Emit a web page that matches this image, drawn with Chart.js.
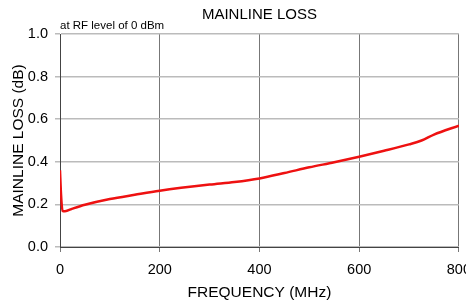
<!DOCTYPE html>
<html>
<head>
<meta charset="utf-8">
<script src="https://cdn.jsdelivr.net/npm/chart.js@4"></script>
<style>
  html, body { margin: 0; padding: 0; background: #fff; overflow: hidden; }
  #wrap { width: 480px; height: 300px; }
</style>
</head>
<body>
<div id="wrap"><canvas id="lossChart" width="480" height="300"></canvas></div>
<script>
const chartTitle = 'MAINLINE LOSS';
const chartNote = 'at RF level of 0 dBm';
const freqMHz = [0, 2, 5, 10, 25, 50, 100, 150, 200, 300, 350, 400, 450, 500, 550, 600, 650, 700, 725, 750, 800];
const lossDb = [0.36, 0.25, 0.17, 0.168, 0.18, 0.198, 0.225, 0.245, 0.264, 0.293, 0.305, 0.322, 0.347, 0.374, 0.398, 0.424, 0.452, 0.482, 0.50, 0.528, 0.57];
const xTicks = [0, 200, 400, 600, 800];
const yTicks = [0, 0.2, 0.4, 0.6, 0.8, 1.0];

const points = freqMHz.map((f, i) => ({x: f, y: lossDb[i]}));
const fontFam = '"Liberation Sans", Arial, sans-serif';

// title + small note drawn over the plot area
const titlePlugin = {
    id: 'titles',
    afterDraw(chart) {
        const ctx = chart.ctx;
        const area = chart.chartArea;
        ctx.save();
        ctx.fillStyle = '#000';
        ctx.textBaseline = 'middle';
        ctx.font = '15px ' + fontFam;
        ctx.textAlign = 'center';
        ctx.fillText(chartTitle, (area.left + area.right) / 2, 15);
        ctx.font = '11.5px ' + fontFam;
        ctx.textAlign = 'left';
        ctx.fillText(chartNote, area.left, 26);
        ctx.restore();
    }
};

const ctx = document.getElementById('lossChart').getContext('2d');

const myChart = new Chart(ctx, {
    type: 'line',
    data: {
        datasets: [{
            data: points,
            borderColor: '#ee1111',
            backgroundColor: 'transparent',
            borderWidth: 2.5,
            pointRadius: 0,
            cubicInterpolationMode: 'monotone'
        }]
    },
    plugins: [titlePlugin],
    options: {
        responsive: false,
        animation: false,
        layout: {
            padding: {left: 0, right: 21, top: 34, bottom: 0}
        },
        plugins: {
            legend: {display: false},
            tooltip: {enabled: false}
        },
        scales: {
            x: {
                type: 'linear',
                min: 0,
                max: 800,
                afterBuildTicks: (scale) => { scale.ticks = xTicks.map(v => ({value: v})); },
                afterFit: (scale) => { scale.height = 53; },
                ticks: {
                    color: '#000',
                    padding: 9,
                    font: {family: fontFam, size: 14.5},
                    maxRotation: 0
                },
                grid: {color: '#777', tickLength: 5},
                border: {color: '#444'},
                title: {
                    display: true,
                    text: 'FREQUENCY (MHz)',
                    color: '#000',
                    padding: {top: 0, bottom: -2},
                    font: {family: fontFam, size: 15.5}
                }
            },
            y: {
                min: 0,
                max: 1,
                afterBuildTicks: (scale) => { scale.ticks = yTicks.map(v => ({value: v})); },
                afterFit: (scale) => { scale.width = 60; },
                ticks: {
                    color: '#000',
                    padding: 7,
                    font: {family: fontFam, size: 14.5},
                    callback: (v) => v.toFixed(1)
                },
                grid: {color: '#bbb', lineWidth: 1.5, tickLength: 5},
                border: {color: '#444'},
                title: {
                    display: true,
                    text: 'MAINLINE LOSS (dB)',
                    color: '#000',
                    padding: {top: 9, bottom: 0},
                    font: {family: fontFam, size: 15.5}
                }
            }
        }
    }
});
</script>
</body>
</html>
